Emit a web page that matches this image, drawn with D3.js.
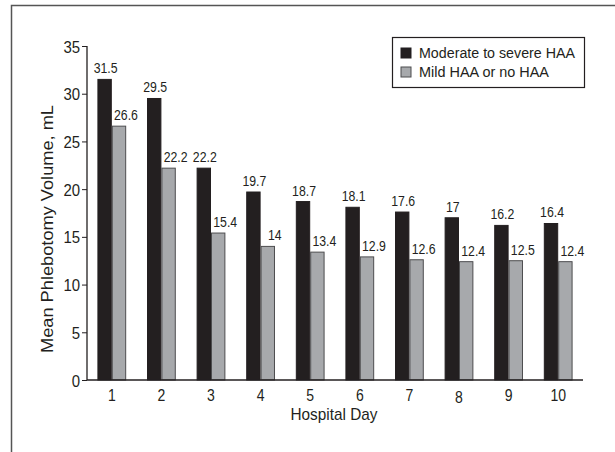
<!DOCTYPE html>
<html><head><meta charset="utf-8">
<script src="https://cdn.jsdelivr.net/npm/d3@7"></script>
<style>
body{margin:0;background:#fff;}
text{font-family:"Liberation Sans",Arial,sans-serif;fill:#231f20;}
</style></head>
<body><svg id="c" width="615" height="452"></svg>
<script>
const days = ["1","2","3","4","5","6","7","8","9","10"];
const seriesNames = ["Moderate to severe HAA","Mild HAA or no HAA"];
const severe = [31.5,29.5,22.2,19.7,18.7,18.1,17.6,17,16.2,16.4];
const mild = [26.6,22.2,15.4,14,13.4,12.9,12.6,12.4,12.5,12.4];
const yTicks = [0,5,10,15,20,25,30,35];
const colors = ["#231f20","#a7a9ac"];

(function(){
const svg = d3.select("#c");
function ntext(sel, x, y, str, size, anchor, sx){
  return sel.append("text").attr("transform",`translate(${x},${y}) scale(${sx},1)`)
    .attr("font-size",size).attr("text-anchor",anchor||"middle").text(str);
}
// frame
svg.append("path").attr("d","M11.5,452 L11.5,5.5 L615,5.5").attr("fill","none").attr("stroke","#555").attr("stroke-width",1.5);

const L=87, R=583, T=46, B=380;
const x = d3.scaleBand().domain(days).range([L,R]).paddingInner(0.42).paddingOuter(0.21);
const xs = d3.scaleBand().domain([0,1]).range([0,x.bandwidth()]);
const y = d3.scaleLinear().domain([0,35]).range([B,T]);

const data = days.map((d,i)=>({day:d, vals:[severe[i],mild[i]]}));
const g = svg.append("g");
const grp = g.selectAll("g.grp").data(data).enter().append("g").attr("transform",d=>`translate(${x(d.day)},0)`);
grp.selectAll("rect").data(d=>d.vals).enter().append("rect")
  .attr("x",(v,i)=>xs(i)+0.5).attr("y",v=>y(v)).attr("width",xs.bandwidth()-1).attr("height",v=>B-y(v))
  .attr("fill",(v,i)=>colors[i]).attr("stroke",(v,i)=>i?"#4d4d4f":"#231f20").attr("stroke-width",1);
grp.each(function(d){
  const gg = d3.select(this);
  d.vals.forEach((v,i)=>{
    ntext(gg, xs(i)+xs.bandwidth()/2+(i?7:1), y(v)-6, String(v), 15, "middle", 0.82);
  });
});

// y axis
const ya = svg.append("g").attr("transform",`translate(${L},0)`)
  .call(d3.axisLeft(y).tickValues(yTicks).tickSize(5).tickPadding(3));
ya.select(".domain").attr("stroke","#231f20").attr("stroke-width",1.3).attr("d",`M0,${T}V${B}`);
ya.selectAll("line").attr("stroke","#231f20");
const YSX = 0.88;
ya.selectAll("text").each(function(){
  d3.select(this).attr("transform",`scale(${YSX},1)`).attr("x",(-7)/YSX).attr("dy","0.36em")
    .attr("font-size",17).attr("fill","#231f20").style("font-family",'"Liberation Sans",Arial,sans-serif');
});

// x axis
const xa = svg.append("g").attr("transform",`translate(0,${B})`)
  .call(d3.axisBottom(x).tickSize(0).tickFormat(""));
xa.select(".domain").attr("stroke","#231f20").attr("stroke-width",1.3).attr("d",`M${L},0H${R}`);
days.forEach(d=>{ ntext(svg, x(d)+x.bandwidth()/2, d==="8"?403:401, d, 16.5, "middle", 0.85); });

svg.append("text").attr("x",334).attr("y",419.5).attr("text-anchor","middle").attr("font-size",17)
  .attr("textLength",87).attr("lengthAdjust","spacingAndGlyphs").text("Hospital Day");
svg.append("text").attr("transform","translate(53,229) rotate(-90)").attr("text-anchor","middle").attr("font-size",16.5)
  .attr("textLength",248).attr("lengthAdjust","spacingAndGlyphs").text("Mean Phlebotomy Volume, mL");

// legend
const lg = svg.append("g");
lg.append("rect").attr("x",392.5).attr("y",37.5).attr("width",192).attr("height",50).attr("fill","#fff").attr("stroke","#231f20").attr("stroke-width",1.2);
const lw = [156,130];
seriesNames.forEach((n,i)=>{
  lg.append("rect").attr("x",401).attr("y",48+i*19).attr("width",10).attr("height",10).attr("fill",colors[i]).attr("stroke",i?"#4d4d4f":"#231f20");
  lg.append("text").attr("x",419).attr("y",58.3+i*18.5).attr("font-size",15.5)
    .attr("textLength",lw[i]).attr("lengthAdjust","spacingAndGlyphs").text(n);
});
})();
</script></body></html>
